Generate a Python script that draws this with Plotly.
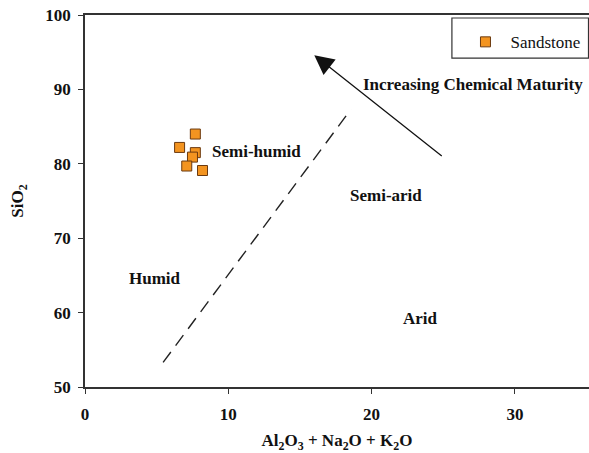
import plotly.graph_objects as go

# Data
sand_x = [7.7, 6.6, 7.7, 7.5, 7.1, 8.2]
sand_y = [84.0, 82.2, 81.5, 80.9, 79.7, 79.1]

boundary_x = [5.45, 18.55]
boundary_y = [53.3, 87.3]

arrow_tail = (25.0, 80.9)
arrow_head = (16.0, 94.6)

region_labels = ["Semi-humid", "Semi-arid", "Humid", "Arid", "Increasing Chemical Maturity"]
region_x = [12.0, 21.0, 4.85, 23.4, 27.1]
region_y = [81.7, 75.7, 64.6, 59.2, 90.7]

x_ticks = [0, 10, 20, 30]
y_ticks = [50, 60, 70, 80, 90, 100]

SERIF = "Liberation Serif, Times New Roman, serif"
FS = 17

fig = go.Figure()

fig.add_trace(go.Scatter(
    x=boundary_x, y=boundary_y, mode="lines",
    line=dict(color="#222222", width=1.4, dash="13px,8px"),
    showlegend=False, hoverinfo="skip"))

fig.add_trace(go.Scatter(
    x=sand_x, y=sand_y, mode="markers", name="Sandstone",
    marker=dict(symbol="square", size=10, color="#F39420",
                line=dict(color="#6B3A10", width=1))))

for t, x, y in zip(region_labels, region_x, region_y):
    fig.add_annotation(x=x, y=y, text=f"<b>{t}</b>", showarrow=False,
                       font=dict(family=SERIF, size=FS, color="#111111"))

fig.add_annotation(x=arrow_head[0], y=arrow_head[1], ax=arrow_tail[0], ay=arrow_tail[1],
                   xref="x", yref="y", axref="x", ayref="y", text="",
                   showarrow=True, arrowhead=2, arrowsize=3.0, arrowwidth=1.3,
                   arrowcolor="#111111")

# legend frame
fig.add_shape(type="rect", xref="paper", yref="paper",
              x0=0.728, x1=0.999, y0=0.884, y1=0.992,
              line=dict(color="#333333", width=1.2), fillcolor="white", layer="below")

axis_common = dict(
    showgrid=False, zeroline=False, showline=True, linecolor="#333333", linewidth=1.5,
    ticks="outside", ticklen=5, tickcolor="#333333", tickwidth=1.2,
    tickfont=dict(family=SERIF, size=FS, color="#111111"),
)

fig.update_layout(
    width=589, height=453,
    margin=dict(l=85, r=0, t=15, b=66),
    plot_bgcolor="white", paper_bgcolor="white",
    xaxis=dict(range=[0, 35.17], tickvals=x_ticks, ticktext=[f"<b>{v}</b>" for v in x_ticks],
               mirror=True, ticklabelstandoff=6,
               title=dict(text="<b>Al<sub>2</sub>O<sub>3</sub> + Na<sub>2</sub>O + K<sub>2</sub>O</b>",
                          font=dict(family=SERIF, size=FS, color="#111111"), standoff=14),
               **axis_common),
    yaxis=dict(range=[50, 100], tickvals=y_ticks, ticktext=[f"<b>{v}</b>" for v in y_ticks],
               ticklabelstandoff=4,
               title=dict(text="<b>SiO<sub>2</sub></b>",
                          font=dict(family=SERIF, size=FS, color="#111111"), standoff=17),
               **axis_common),
    legend=dict(x=0.745, y=0.975, xanchor="left", yanchor="top",
                borderwidth=0, bgcolor="rgba(0,0,0,0)", itemwidth=40,
                font=dict(family=SERIF, size=FS, color="#111111")),
)

fig.write_html("out.html")
